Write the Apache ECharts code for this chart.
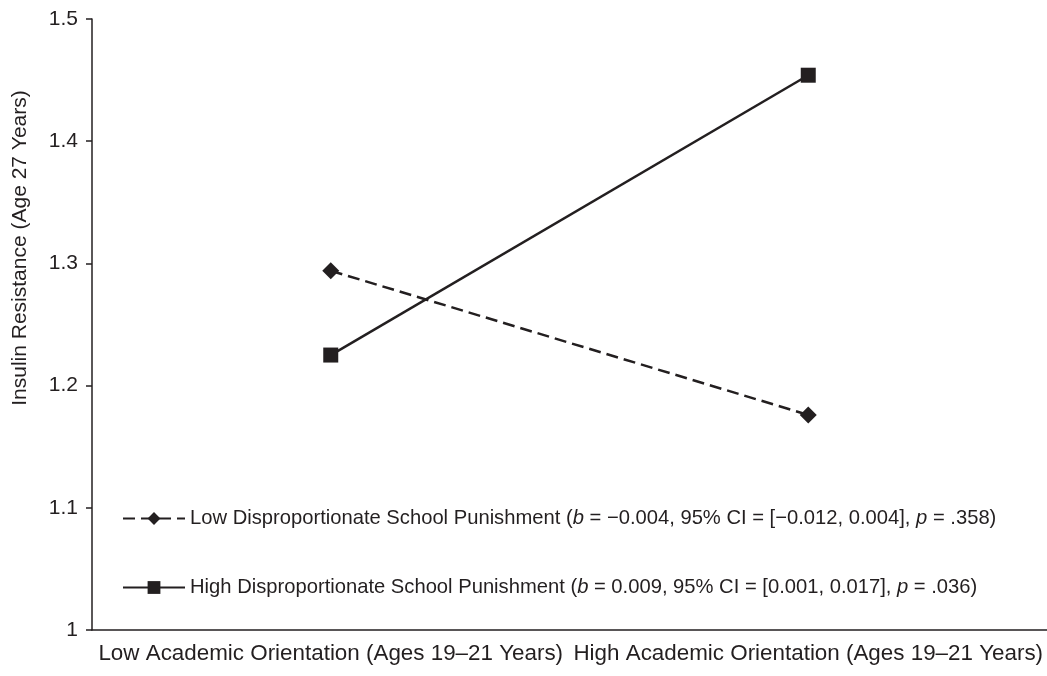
<!DOCTYPE html>
<html>
<head>
<meta charset="utf-8">
<script src="https://cdn.jsdelivr.net/npm/echarts@6/dist/echarts.min.js"></script>
<style>html,body{margin:0;padding:0;background:#fff;}#c{width:1047px;height:676px;}</style>
</head>
<body>
<div id="c"></div>
<script>
var categories = ['Low Academic Orientation (Ages 19\u201321 Years)', 'High Academic Orientation (Ages 19\u201321 Years)'];
var lowPunishment = [1.294, 1.176];
var highPunishment = [1.225, 1.454];
var seriesNames = ['Low Disproportionate School Punishment', 'High Disproportionate School Punishment'];
var seriesStats = [
  ['\u22120.004', '[\u22120.012, 0.004]', '.358'],
  ['0.009', '[0.001, 0.017]', '.036']
];
var yTicks = { min: 1, max: 1.5, interval: 0.1 };
var yTitle = 'Insulin Resistance (Age 27 Years)';

var ink = '#231f20';
var font = 'Liberation Sans';
var chart = echarts.init(document.getElementById('c'));
chart.setOption({
  animation: false,
  grid: { left: 92, top: 19, bottom: 46, right: -11, containLabel: false },
  xAxis: {
    type: 'category',
    data: categories,
    axisLine: { lineStyle: { color: ink, width: 1.5 } },
    axisTick: { lineStyle: { color: ink, width: 1.5 }, length: 7 },
    axisLabel: { color: ink, fontFamily: font, fontSize: 22.4, margin: 13, interval: 0, hideOverlap: false }
  },
  yAxis: {
    type: 'value',
    min: yTicks.min, max: yTicks.max, interval: yTicks.interval,
    splitLine: { show: false },
    axisLine: { show: true, lineStyle: { color: ink, width: 1.5 } },
    axisTick: { show: true, lineStyle: { color: ink, width: 1.5 }, length: 6 },
    axisLabel: { color: ink, fontFamily: font, fontSize: 21, margin: 14 }
  },
  graphic: [{
    type: 'text',
    x: 20, y: 248, rotation: Math.PI / 2,
    style: { text: yTitle, fill: ink, font: '21px "Liberation Sans"', align: 'center', verticalAlign: 'middle' }
  }],
  legend: {
    orient: 'vertical', left: 117, top: 502,
    itemWidth: 62, itemHeight: 16, itemGap: 46,
    data: seriesNames,
    formatter: function (name) {
      var i = seriesNames.indexOf(name);
      var s = seriesStats[i];
      return '{n|' + name + ' (}{i|b}{n| = ' + s[0] + ', 95% CI = ' + s[1] + ', }{i|p}{n| = ' + s[2] + ')}';
    },
    textStyle: {
      color: ink, fontFamily: font, fontSize: 20.2, lineHeight: 23,
      rich: {
        n: { color: ink, fontFamily: font, fontSize: 20.2, lineHeight: 23 },
        i: { color: ink, fontFamily: font, fontSize: 20.2, lineHeight: 23, fontStyle: 'italic' }
      }
    }
  },
  series: [
    {
      name: seriesNames[0], type: 'line', data: lowPunishment,
      symbol: 'diamond', symbolSize: 17,
      lineStyle: { color: ink, width: 2.5, type: [12, 6] },
      itemStyle: { color: ink }
    },
    {
      name: seriesNames[1], type: 'line', data: highPunishment,
      symbol: 'rect', symbolSize: 15,
      lineStyle: { color: ink, width: 2.5, type: 'solid' },
      itemStyle: { color: ink }
    }
  ]
});
</script>
</body>
</html>
